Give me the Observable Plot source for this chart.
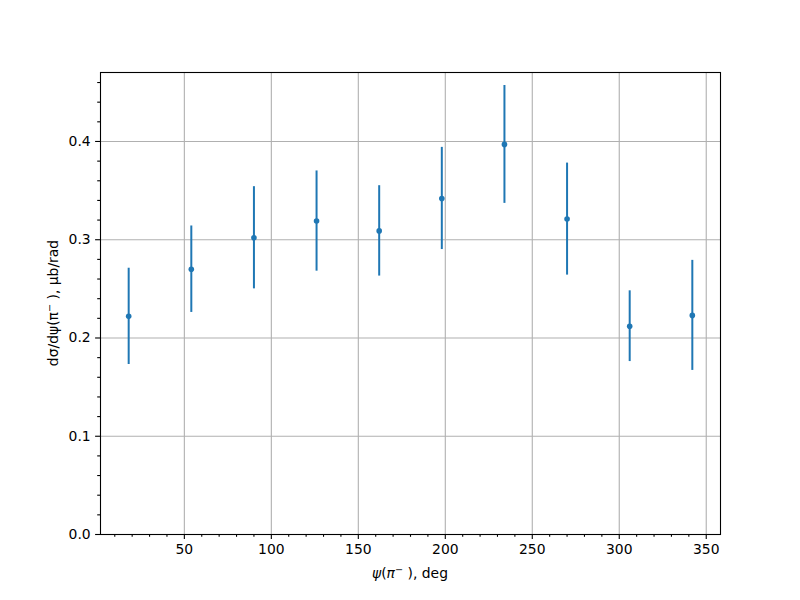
<!DOCTYPE html>
<html><head><meta charset="utf-8">
<script src="https://cdn.jsdelivr.net/npm/d3@7"></script>
<script src="https://cdn.jsdelivr.net/npm/@observablehq/plot@0.6"></script>
<style>body{margin:0;background:#fff}</style>
</head><body><div id="chart"></div>
<script>
const psi = [18, 54, 90, 126, 162, 198, 234, 270, 306, 342];
const xsec = [0.222, 0.270, 0.302, 0.319, 0.309, 0.342, 0.397, 0.321, 0.212, 0.223];
const err = [0.049, 0.044, 0.052, 0.051, 0.046, 0.052, 0.060, 0.057, 0.036, 0.056];
const xTicks = [50, 100, 150, 200, 250, 300, 350];
const xMinor = [10, 20, 30, 40, 60, 70, 80, 90, 110, 120, 130, 140, 160, 170, 180, 190, 210, 220, 230, 240, 260, 270, 280, 290, 310, 320, 330, 340];
const yTicks = [0, 0.1, 0.2, 0.3, 0.4];
const yMinor = [0.02, 0.04, 0.06, 0.08, 0.12, 0.14, 0.16, 0.18, 0.22, 0.24, 0.26, 0.28, 0.32, 0.34, 0.36, 0.38, 0.42, 0.44, 0.46];

const data = psi.map((p, i) => ({psi: p, v: xsec[i], lo: xsec[i] - err[i], hi: xsec[i] + err[i]}));
const blue = "#1f77b4";

const chart = Plot.plot({
  width: 800, height: 600,
  marginLeft: 100, marginRight: 80, marginTop: 72, marginBottom: 66,
  style: {fontFamily: "'DejaVu Sans', sans-serif", fontSize: "13.9px", color: "black", background: "white"},
  x: {domain: [1.8, 358.2]},
  y: {domain: [0, 0.4702]},
  marks: [
    Plot.gridX(xTicks, {stroke: "#b0b0b0", strokeOpacity: 1, strokeWidth: 1.1}),
    Plot.gridY(yTicks, {stroke: "#b0b0b0", strokeOpacity: 1, strokeWidth: 1.1}),
    Plot.ruleX(data, {x: "psi", y1: "lo", y2: "hi", stroke: blue, strokeWidth: 2}),
    Plot.dot(data, {x: "psi", y: "v", r: 2.8, fill: blue, stroke: "none"}),
    Plot.frame({stroke: "black", strokeWidth: 1.1}),
    Plot.axisX(xTicks, {tickSize: 4.9, tickPadding: 4.9, label: null, strokeWidth: 1.1}),
    Plot.axisX(xMinor, {tickSize: 2.8, tickFormat: () => "", label: null, strokeWidth: 1.1}),
    Plot.axisY(yTicks, {tickSize: 4.9, tickPadding: 4.9, tickFormat: d => d.toFixed(1), label: null, strokeWidth: 1.1}),
    Plot.axisY(yMinor, {tickSize: 2.8, tickFormat: () => "", label: null, strokeWidth: 1.1})
  ]
});

document.getElementById("chart").appendChild(chart);
const svg = d3.select(chart);

const xl = svg.append("text").attr("x", 410).attr("y", 578).attr("text-anchor", "middle")
  .attr("fill", "black").style("font-size", "13.9px");
xl.append("tspan").attr("font-style", "italic").text("ψ");
xl.append("tspan").text("(");
xl.append("tspan").attr("font-style", "italic").text("π");
xl.append("tspan").attr("dy", -5).style("font-size", "9.7px").text("−");
xl.append("tspan").attr("dy", 5).text(" ), deg");

const yl = svg.append("text").attr("transform", "translate(58,303) rotate(-90)").attr("text-anchor", "middle")
  .attr("fill", "black").style("font-size", "13.9px");
yl.append("tspan").text("dσ/dψ(π");
yl.append("tspan").attr("dy", -5).style("font-size", "9.7px").text("−");
yl.append("tspan").attr("dy", 5).text(" ), μb/rad");
</script>
</body></html>
